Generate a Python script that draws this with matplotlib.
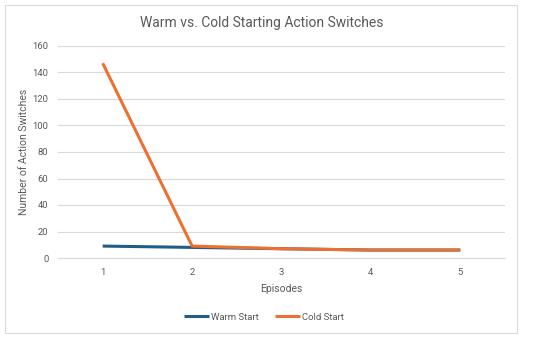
import matplotlib
matplotlib.use("Agg")
import matplotlib.pyplot as plt
from matplotlib.patches import Rectangle

# ── Data ──────────────────────────────────────────────────────────────────────
episodes = [1, 2, 3, 4, 5]
warm_start = [9, 8, 7, 6, 6]
cold_start = [147, 9, 7, 6, 6]
y_ticks = [0, 20, 40, 60, 80, 100, 120, 140, 160]

TEXT = "#595959"
GRID = "#d9d9d9"

plt.rcParams["font.family"] = ["Roboto", "DejaVu Sans"]

fig = plt.figure(figsize=(5.5, 3.4), dpi=100)
fig.patches.append(Rectangle((5 / 550, 1 - 333 / 340), 512 / 550, 328 / 340,
                             transform=fig.transFigure, fill=False,
                             edgecolor="#d9d9d9", linewidth=0.8))

ax = fig.add_axes([58 / 550, 1 - 258 / 340, 447 / 550, 212 / 340])
ax.plot(episodes, warm_start, color="#1f5c87", linewidth=2.2, label="Warm Start",
        solid_capstyle="butt")
ax.plot(episodes, cold_start, color="#ee7031", linewidth=2.2, label="Cold Start",
        solid_capstyle="butt")

ax.set_xlim(0.5, 5.5)
ax.set_ylim(0, 160)
ax.set_xticks(episodes)
ax.set_yticks(y_ticks)
ax.tick_params(length=0, labelsize=6.8, colors=TEXT, pad=7)
ax.grid(axis="y", color=GRID, linewidth=0.8)
ax.set_axisbelow(True)
for s in ["top", "right", "left"]:
    ax.spines[s].set_visible(False)
ax.spines["bottom"].set_color(GRID)
ax.spines["bottom"].set_linewidth(0.8)

ax.set_xlabel("Episodes", fontsize=7.5, color=TEXT, labelpad=5)
ax.set_ylabel("Number of Action Switches", fontsize=7.5, color=TEXT, labelpad=2)
fig.text(0.475, 1 - 23 / 340, "Warm vs. Cold Starting Action Switches",
         ha="center", va="center", fontsize=10, color=TEXT)

fig.legend(loc="center", bbox_to_anchor=(0.48, 1 - 317 / 340), ncol=2,
           frameon=False, fontsize=6.8, labelcolor=TEXT, handlelength=2.6,
           handletextpad=0.2, columnspacing=1.8)

fig.savefig("out.png", dpi=100, facecolor="white")
